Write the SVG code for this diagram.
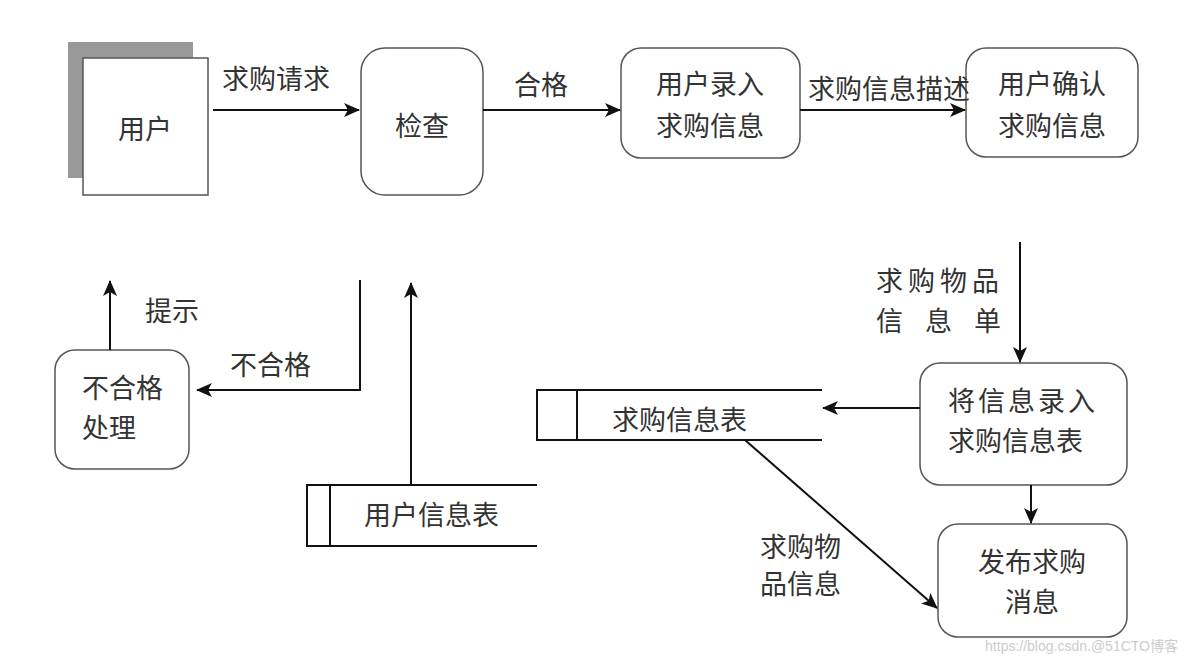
<svg xmlns="http://www.w3.org/2000/svg" width="1184" height="665" viewBox="0 0 1184 665">
<defs>
<style>
.t{font-family:"Liberation Sans","Noto Sans CJK SC",sans-serif;font-size:27px;fill:#333}
.box{fill:#fff;stroke:#555;stroke-width:1.5}
.ln{fill:none;stroke:#111;stroke-width:2}
.st{fill:none;stroke:#111;stroke-width:2}
.wm{font-family:"Liberation Sans","Noto Sans CJK SC",sans-serif;font-size:14px;fill:#ccc}
</style>
<marker id="ah" viewBox="0 0 16 14" refX="15" refY="7" markerWidth="16" markerHeight="14" markerUnits="userSpaceOnUse" orient="auto">
<path d="M0,0 L16,7 L0,14 L4,7 Z" fill="#111"/>
</marker>
</defs>
<rect width="1184" height="665" fill="#fff"/>

<g id="user">
<rect x="68" y="42" width="125" height="136" fill="#999"/>
<rect x="83" y="58" width="125" height="137" fill="#fff" stroke="#555" stroke-width="1.5"/>
<text class="t" x="145" y="139" text-anchor="middle">用户</text>
</g>

<g id="check">
<rect class="box" x="361" y="48" width="122" height="147" rx="24"/>
<text class="t" x="422" y="136" text-anchor="middle">检查</text>
</g>

<g id="input">
<rect class="box" x="621" y="48" width="179" height="110" rx="20"/>
<text class="t" x="710" y="94" text-anchor="middle">用户录入</text>
<text class="t" x="710" y="136" text-anchor="middle">求购信息</text>
</g>

<g id="confirm">
<rect class="box" x="966" y="48" width="172" height="109" rx="20"/>
<text class="t" x="1052" y="94" text-anchor="middle">用户确认</text>
<text class="t" x="1052" y="136" text-anchor="middle">求购信息</text>
</g>

<g id="fail">
<rect class="box" x="55" y="350" width="134" height="119" rx="20"/>
<text class="t" x="82" y="398">不合格</text>
<text class="t" x="82" y="438">处理</text>
</g>

<g id="record">
<rect class="box" x="920" y="363" width="207" height="122" rx="20"/>
<text class="t" x="948" y="411" letter-spacing="3">将信息录入</text>
<text class="t" x="948" y="451">求购信息表</text>
</g>

<g id="publish">
<rect class="box" x="938" y="524" width="189" height="113" rx="20"/>
<text class="t" x="1032" y="572" text-anchor="middle">发布求购</text>
<text class="t" x="1032" y="612" text-anchor="middle">消息</text>
</g>

<g id="store-purchase">
<path class="st" d="M822,390 H537 V440 H822 M577,390 V440"/>
<text class="t" x="612" y="430">求购信息表</text>
</g>

<g id="store-user">
<path class="st" d="M537,485 H307 V546 H537 M330,485 V546"/>
<text class="t" x="364" y="525">用户信息表</text>
</g>

<g id="connectors">
<line class="ln" x1="213" y1="110" x2="359" y2="110" marker-end="url(#ah)"/>
<text class="t" x="222" y="89">求购请求</text>
<line class="ln" x1="483" y1="110" x2="620" y2="110" marker-end="url(#ah)"/>
<text class="t" x="514" y="95">合格</text>
<line class="ln" x1="800" y1="110" x2="965" y2="110" marker-end="url(#ah)"/>
<text class="t" x="808" y="99">求购信息描述</text>
<line class="ln" x1="1020" y1="242" x2="1020" y2="362" marker-end="url(#ah)"/>
<text class="t" x="876" y="291" letter-spacing="5">求购物品</text>
<text class="t" x="876" y="331" letter-spacing="22">信息单</text>
<line class="ln" x1="920" y1="408" x2="823" y2="408" marker-end="url(#ah)"/>
<line class="ln" x1="1031" y1="485" x2="1031" y2="523" marker-end="url(#ah)"/>
<line class="ln" x1="745" y1="440" x2="937" y2="608" marker-end="url(#ah)"/>
<text class="t" x="760" y="557">求购物</text>
<text class="t" x="760" y="594">品信息</text>
<polyline class="ln" points="360,280 360,390 197,390" marker-end="url(#ah)"/>
<text class="t" x="230" y="375">不合格</text>
<line class="ln" x1="110" y1="350" x2="110" y2="281" marker-end="url(#ah)"/>
<text class="t" x="145" y="321">提示</text>
<line class="ln" x1="411" y1="485" x2="411" y2="283" marker-end="url(#ah)"/>
</g>

<text class="wm" x="1178" y="651" text-anchor="end">https://blog.csdn.@51CTO博客</text>
</svg>
